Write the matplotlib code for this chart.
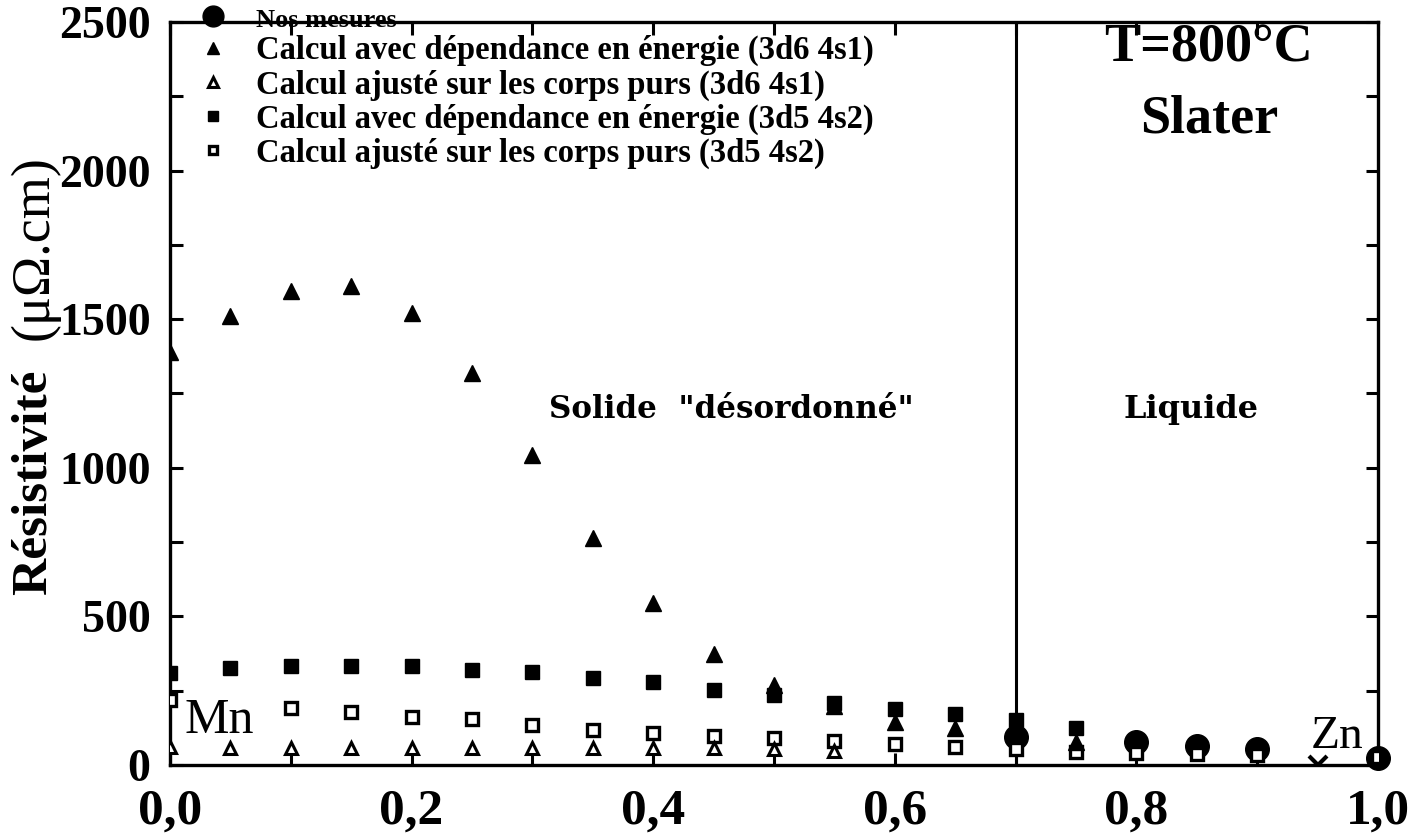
import matplotlib
matplotlib.use("Agg")
import matplotlib.pyplot as plt
from matplotlib.ticker import MultipleLocator, FixedLocator, FixedFormatter

# Composition (fraction of Zn) and resistivity values (µΩ.cm) at 800 °C
x_mesures = [0.70, 0.80, 0.85, 0.90, 1.00]
rho_mesures = [95, 77, 63, 55, 25]

x_tri_e = [0.00, 0.05, 0.10, 0.15, 0.20, 0.25, 0.30, 0.35, 0.40, 0.45,
           0.50, 0.55, 0.60, 0.65, 0.70, 0.75]
rho_tri_e = [1390, 1512, 1596, 1612, 1520, 1318, 1043, 764, 545, 375,
             270, 200, 146, 124, 100, 78]

x_tri_a = [0.00, 0.05, 0.10, 0.15, 0.20, 0.25, 0.30, 0.35, 0.40, 0.45,
           0.50, 0.55]
rho_tri_a = [60, 56, 56, 56, 56, 56, 56, 56, 56, 56, 54, 48]

x_sq_e = [0.00, 0.05, 0.10, 0.15, 0.20, 0.25, 0.30, 0.35, 0.40, 0.45,
          0.50, 0.55, 0.60, 0.65, 0.70, 0.75]
rho_sq_e = [310, 326, 333, 333, 333, 320, 313, 293, 280, 252,
            235, 208, 190, 172, 150, 124]

x_sq_a = [0.00, 0.05, 0.10, 0.15, 0.20, 0.25, 0.30, 0.35, 0.40, 0.45,
          0.50, 0.55, 0.60, 0.65, 0.70, 0.75, 0.80, 0.85, 0.90, 1.00]
rho_sq_a = [219, 202, 192, 180, 163, 154, 136, 118, 106, 99,
            92, 82, 72, 60, 55, 45, 40, 38, 34, 28]

x_croix = [0.95]
rho_croix = [0]

labels = ["Nos mesures",
          "Calcul avec dépendance en énergie (3d6 4s1)",
          "Calcul ajusté sur les corps purs (3d6 4s1)",
          "Calcul avec dépendance en énergie (3d5 4s2)",
          "Calcul ajusté sur les corps purs (3d5 4s2)"]

x_ticks = [0.0, 0.2, 0.4, 0.6, 0.8, 1.0]
x_ticklabels = ["0,0", "0,2", "0,4", "0,6", "0,8", "1,0"]
y_ticks = [0, 500, 1000, 1500, 2000, 2500]
y_ticklabels = ["0", "500", "1000", "1500", "2000", "2500"]

x_transition = 0.70

W, H, DPI = 1428, 838, 100
fig = plt.figure(figsize=(W / DPI, H / DPI), dpi=DPI)
ax = fig.add_axes([170 / W, 1 - 765 / H, (1378 - 170) / W, (765 - 22) / H])

times = ["Liberation Serif", "DejaVu Serif"]
serif_b = dict(family=times, weight="bold")
wide_b = dict(family=["DejaVu Serif"], weight="bold")

# phase boundary solid / liquid
ax.axvline(x_transition, color="black", lw=2.2, zorder=1)

h_sq_a, = ax.plot(x_sq_a, rho_sq_a, ls="none", marker="s", ms=8.5, mfc="white",
                  mec="black", mew=2.4, zorder=3)
h_tri_a, = ax.plot(x_tri_a, rho_tri_a, ls="none", marker="^", ms=9, mfc="white",
                   mec="black", mew=2.2, zorder=7)
h_sq_e, = ax.plot(x_sq_e, rho_sq_e, ls="none", marker="s", ms=10, color="black",
                  zorder=4)
h_tri_e, = ax.plot(x_tri_e, rho_tri_e, ls="none", marker="^", ms=11, color="black",
                   zorder=4)
h_mes, = ax.plot(x_mesures, rho_mesures, ls="none", marker="o", ms=17,
                 color="black", zorder=2, clip_on=False)
ax.plot(x_croix, rho_croix, ls="none", marker="x", ms=13, mew=3, color="black",
        zorder=5)

ax.set_xlim(0, 1.0)
ax.set_ylim(0, 2500)

ax.xaxis.set_major_locator(FixedLocator(x_ticks))
ax.xaxis.set_major_formatter(FixedFormatter(x_ticklabels))
ax.xaxis.set_minor_locator(MultipleLocator(0.1))
ax.yaxis.set_major_locator(FixedLocator(y_ticks))
ax.yaxis.set_major_formatter(FixedFormatter(y_ticklabels))
ax.yaxis.set_minor_locator(MultipleLocator(250))

ax.tick_params(which="both", direction="in", top=True, right=True,
               length=9, width=2.2, color="black")
ax.tick_params(axis="x", which="major", pad=17)
ax.tick_params(axis="y", which="major", pad=14)
for lab in ax.get_xticklabels():
    lab.set_fontfamily(times)
    lab.set_fontweight("bold")
    lab.set_fontsize(37)
for lab in ax.get_yticklabels():
    lab.set_fontfamily(times)
    lab.set_fontweight("bold")
    lab.set_fontsize(33)

for sp in ax.spines.values():
    sp.set_linewidth(2.4)
    sp.set_color("black")

# y-axis title in two pieces
fig.text(34 / W, 1 - 482 / H, "Résistivité", rotation=90, ha="center",
         va="center", fontsize=37, **serif_b)
fig.text(34 / W, 1 - 248 / H, "(μΩ.cm)", rotation=90, ha="center",
         va="center", fontsize=39, family=times)

# region annotations
ax.text(0.465, 1195, 'Solide  "désordonné"', ha="center", va="center",
        fontsize=22.3, **wide_b)
ax.text(0.845, 1195, "Liquide", ha="center", va="center", fontsize=23, **wide_b)
ax.text(0.86, 2410, "T=800°C", ha="center", va="center", fontsize=39, **serif_b)
ax.text(0.86, 2173, "Slater", ha="center", va="center", fontsize=39, **serif_b)
ax.text(0.012, 150, "Mn", ha="left", va="center", fontsize=36, family=times,
        zorder=6, bbox=dict(facecolor="white", edgecolor="none", pad=0))
ax.text(0.988, 95, "Zn", ha="right", va="center", fontsize=34, family=times)

leg = fig.legend([h_mes, h_tri_e, h_tri_a, h_sq_e, h_sq_a], labels,
                 loc="upper left", bbox_to_anchor=(187 / W, 1 + 12 / H),
                 frameon=False, handlelength=0.6, handletextpad=1.0,
                 labelspacing=0.09, borderpad=0.0, markerscale=0.75,
                 prop=dict(family=times, weight="bold", size=23.5))
leg.get_texts()[0].set_fontsize(19)
leg.legend_handles[0].set_markersize(15)

fig.savefig("out.png", dpi=DPI)
